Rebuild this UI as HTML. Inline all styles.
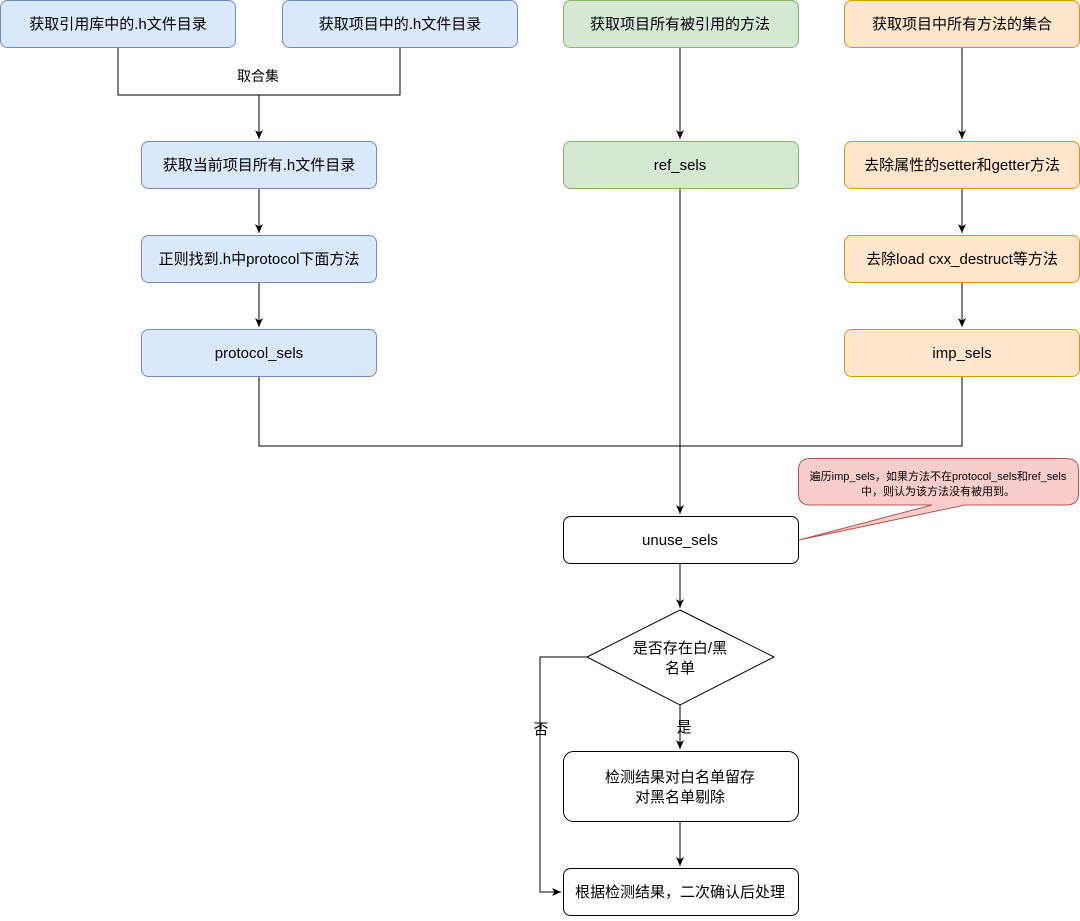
<!DOCTYPE html><html><head><meta charset="utf-8"><style>body{margin:0;background:#fff}svg text{font-family:"Liberation Sans","Noto Sans CJK SC",sans-serif;font-size:15px;fill:#000}</style></head><body>
<svg width="1080" height="916" viewBox="0 0 1080 916" xmlns="http://www.w3.org/2000/svg">
<defs><marker id="a" markerWidth="10" markerHeight="10" refX="9" refY="5" orient="auto" markerUnits="userSpaceOnUse"><path d="M0,1 L9,5 L0,9 L2.5,5 Z" fill="#000"/></marker></defs>
<g fill="none" stroke="#000" stroke-width="1">
<path d="M118,47 V95 H400 V47"/>
<path d="M259,95 V139" marker-end="url(#a)"/>
<path d="M259,188 V233" marker-end="url(#a)"/>
<path d="M259,282 V327" marker-end="url(#a)"/>
<path d="M680,47 V139" marker-end="url(#a)"/>
<path d="M962,47 V139" marker-end="url(#a)"/>
<path d="M962,188 V233" marker-end="url(#a)"/>
<path d="M962,282 V327" marker-end="url(#a)"/>
<path d="M259,376 V446 H962 V376"/>
<path d="M680,188 V514" marker-end="url(#a)"/>
<path d="M680,563 V608" marker-end="url(#a)"/>
<path d="M680,705 V749" marker-end="url(#a)"/>
<path d="M680,821 V866" marker-end="url(#a)"/>
<path d="M587,657 H540 V892 H561" marker-end="url(#a)"/>
</g>
<g stroke-width="1">
<rect x="0.5" y="0.5" width="235" height="47" rx="7" fill="#dae8fc" stroke="#6c8ebf"/>
<rect x="282.5" y="0.5" width="235" height="47" rx="7" fill="#dae8fc" stroke="#6c8ebf"/>
<rect x="563.5" y="0.5" width="235" height="47" rx="7" fill="#d5e8d4" stroke="#82b366"/>
<rect x="844.5" y="0.5" width="235" height="47" rx="7" fill="#ffe6cc" stroke="#d79b00"/>
<rect x="141.5" y="141.5" width="235" height="47" rx="7" fill="#dae8fc" stroke="#6c8ebf"/>
<rect x="141.5" y="235.5" width="235" height="47" rx="7" fill="#dae8fc" stroke="#6c8ebf"/>
<rect x="141.5" y="329.5" width="235" height="47" rx="7" fill="#dae8fc" stroke="#6c8ebf"/>
<rect x="563.5" y="141.5" width="235" height="47" rx="7" fill="#d5e8d4" stroke="#82b366"/>
<rect x="844.5" y="141.5" width="235" height="47" rx="7" fill="#ffe6cc" stroke="#d79b00"/>
<rect x="844.5" y="235.5" width="235" height="47" rx="7" fill="#ffe6cc" stroke="#d79b00"/>
<rect x="844.5" y="329.5" width="235" height="47" rx="7" fill="#ffe6cc" stroke="#d79b00"/>
<rect x="563.5" y="516.5" width="235" height="47" rx="7" fill="#fff" stroke="#000"/>
<path d="M680,610 L774,657 L680,705 L587,657 Z" fill="#fff" stroke="#000"/>
<rect x="563.5" y="751.5" width="235" height="70" rx="10" fill="#fff" stroke="#000"/>
<rect x="563.5" y="868.5" width="235" height="47" rx="7" fill="#fff" stroke="#000"/>
<path d="M810,458.5 H1066 Q1078.5,458.5 1078.5,470 V494 Q1078.5,505 1066,505 H965 L799,540 L932,505 H810 Q798.5,505 798.5,494 V470 Q798.5,458.5 810,458.5 Z" fill="#f8cecc" stroke="#b85450"/>
</g>
<g text-anchor="middle">
<text x="118" y="29">获取引用库中的.h文件目录</text>
<text x="400" y="29">获取项目中的.h文件目录</text>
<text x="680" y="29">获取项目所有被引用的方法</text>
<text x="962" y="29">获取项目中所有方法的集合</text>
<text x="258" y="81" style="font-size:14px">取合集</text>
<text x="259" y="170">获取当前项目所有.h文件目录</text>
<text x="259" y="264">正则找到.h中protocol下面方法</text>
<text x="259" y="358">protocol_sels</text>
<text x="680" y="170">ref_sels</text>
<text x="962" y="170">去除属性的setter和getter方法</text>
<text x="962" y="264">去除load cxx_destruct等方法</text>
<text x="962" y="358">imp_sels</text>
<text x="680" y="545">unuse_sels</text>
<text x="680" y="653">是否存在白/黑</text>
<text x="680" y="673">名单</text>
<text x="684" y="732">是</text>
<text x="541" y="734">否</text>
<text x="680" y="782">检测结果对白名单留存</text>
<text x="680" y="802">对黑名单剔除</text>
<text x="680" y="897">根据检测结果，二次确认后处理</text>
<text x="938" y="480" style="font-size:11px">遍历imp_sels，如果方法不在protocol_sels和ref_sels</text>
<text x="938" y="495" style="font-size:11px">中，则认为该方法没有被用到。</text>
</g>
</svg></body></html>
